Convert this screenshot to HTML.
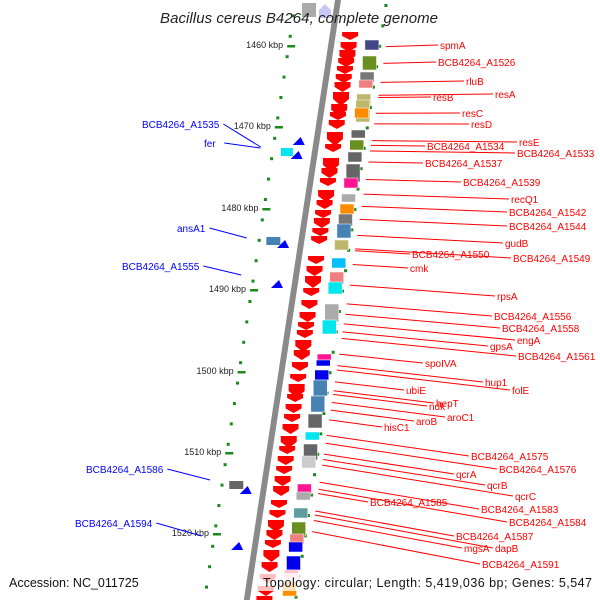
<!DOCTYPE html>
<html><head><meta charset="utf-8"><style>
html,body{margin:0;padding:0;background:#fff;}
svg{display:block;font-family:"Liberation Sans","DejaVu Sans",sans-serif;}
</style></head><body>
<svg id="map" width="600" height="600" viewBox="0 0 600 600">
<g id="gdots"></g>
<g id="gticks"></g>
<g id="glines"></g>
<g id="gback"></g>
<g id="garrows"></g>
<g id="gboxes"></g>
<g id="gleft"></g>
<g id="glabels"></g>
<text x="299" y="23" text-anchor="middle" font-size="15" font-style="italic" fill="#222" textLength="278">Bacillus cereus B4264, complete genome</text>
<text x="9" y="587" font-size="12.5" fill="#111">Accession: NC_011725</text>
<rect x="258" y="573" width="338" height="18" fill="#fff" opacity="0.75"/>
<text x="263" y="587" font-size="12.5" fill="#111" textLength="329">Topology: circular; Length: 5,419,036 bp; Genes: 5,547</text>
</svg>
<script>
// data
const kbpTicks = [1460,1470,1480,1490,1500,1510,1520];
const kbpTickY = [45,126,208,289,371,452,533];
const rightLabels = ["spmA","BCB4264_A1526","rluB","resA","resB","resC","resD","resE","BCB4264_A1534","BCB4264_A1533","BCB4264_A1537","BCB4264_A1539","recQ1","BCB4264_A1542","BCB4264_A1544","gudB","BCB4264_A1550","BCB4264_A1549","cmk","rpsA","BCB4264_A1556","BCB4264_A1558","engA","gpsA","BCB4264_A1561","spoIVA","hup1","folE","ubiE","hepT","ndk","aroC1","aroB","hisC1","BCB4264_A1575","BCB4264_A1576","qcrA","qcrB","qcrC","BCB4264_A1585","BCB4264_A1583","BCB4264_A1584","BCB4264_A1587","mgsA","dapB","BCB4264_A1591"];
const rightLabelX = [440,438,466,495,433,462,471,519,427,517,425,463,511,509,509,505,412,513,410,497,494,502,517,490,518,425,485,512,406,436,429,447,416,384,471,499,456,487,515,370,481,509,456,464,495,482];
const rightLabelY = [45,62,81,94,97,113,124,142,146,153,163,182,199,212,226,243,254,258,268,296,316,328,340,346,356,363,382,390,390,403,406,417,421,427,456,469,474,485,496,502,509,522,536,548,548,564];
const leftLabels = ["BCB4264_A1535","fer","ansA1","BCB4264_A1555","BCB4264_A1586","BCB4264_A1594"];
const leftLabelX = [142,204,177,122,86,75];
const leftLabelY = [124,143,228,266,469,523];
const leftGeneY = [147,148,238,275,480,536];
const arrowY = [32,42,50,58,66,74,82,92,104,112,120,132,144,158,168,178,190,200,210,218,228,236,256,266,276,288,300,312,322,330,340,350,362,374,384,394,404,414,424,436,446,456,466,476,486,500,510,520,530,540,550,562,574,586,596];
const arrowSize = [8,10,12,9,8,9,10,14,12,8,9,14,8,14,10,8,12,9,8,10,8,8,8,10,12,8,9,10,8,8,12,10,9,8,14,8,9,8,10,12,8,9,8,10,10,8,8,12,10,8,12,10,9,10,9];
const boxY = [40,56,72,80,94,100,108,130,140,152,164,178,194,204,214,224,240,258,272,282,304,320,354,360,370,380,396,414,432,444,456,484,492,508,522,534,542,556,570,582];
const boxH = [10,14,10,8,12,22,10,8,10,10,18,10,8,10,12,14,10,10,12,12,18,14,6,6,10,16,16,14,8,16,12,10,8,10,14,10,10,14,10,14];
const boxC = ["#444488","#6b8e23","#777","#f08080","#bdb76b","#bdb76b","#ff8c00","#666","#6b8e23","#666","#666","#ff1493","#aaa","#ff8c00","#777","#4682b4","#bdb76b","#00bfff","#f08080","#00e5ee","#aaa","#00e5ee","#ff1493","#0000ee","#0000ee","#4682b4","#4682b4","#666","#00e5ee","#666","#ccc","#ff1493","#aaa","#5f9ea0","#6b8e23","#f08080","#0000ee","#0000ee","#ffc0cb","#ff8c00"];
const blueTriY = [140,154,243,283,489,545];
const NS="http://www.w3.org/2000/svg";
const bx = y => 338 - 0.152*y;
function el(tag,attrs,parent){const e=document.createElementNS(NS,tag);for(const k in attrs)e.setAttribute(k,attrs[k]);document.getElementById(parent).appendChild(e);return e;}
for(let y=-6;y<610;y+=20.4){
  const d1=el('rect',{x:bx(y)-44,y:y,width:3,height:3,fill:'#1a8a1a'},'gdots');
  
  
  const d2=el('rect',{x:bx(y+10)+47,y:y+10,width:3,height:3,fill:'#1a8a1a'},'gdots');
  
  
}
kbpTicks.forEach((k,i)=>{
  const y=kbpTickY[i];
  const t=el('text',{x:bx(y)-48,y:y+3,'font-size':9,'text-anchor':'end',fill:'#222'},'gticks');
  t.textContent=k+' kbp';
  
  
  const m=el('rect',{x:bx(y)-44,y:y,width:8,height:2.5,fill:'#1a8a1a'},'gticks');
  
  
});
const bk=el('polygon',{points:`${bx(-5)-3},-5 ${bx(-5)+3},-5 ${bx(605)+3},605 ${bx(605)-3},605`,fill:'#8a8a8a'},'gback');


const tb=el('rect',{x:302,y:3,width:14,height:14,fill:'#aaa'},'gback');


const tp=el('polygon',{points:'319,10 325,4 331,10 331,18 319,18',fill:'#c8c8f5'},'gback');


arrowY.forEach((y,i)=>{
  const s=arrowSize[i], cx=bx(y)+17;
  const a=el('polygon',{points:`${cx-8},${y} ${cx+8},${y} ${cx+8},${y+s*0.5} ${cx},${y+s} ${cx-8},${y+s*0.5}`,fill:'#f00'},'garrows');
  
  
});
boxY.forEach((y,i)=>{
  const b=el('rect',{x:bx(y)+33,y:y,width:14,height:boxH[i],fill:boxC[i],stroke:'#fff','stroke-width':0.5},'gboxes');
  
  
});
blueTriY.forEach(y=>{
  const x=bx(y)-18;
  const t=el('polygon',{points:`${x-6},${y+5} ${x+6},${y+5} ${x+2},${y-3}`,fill:'#00f'},'gleft');
  
  
});
[[152,'#00e5ee',12],[241,'#4682b4',14],[485,'#666',14]].forEach(([y,c,w])=>{
  const r=el('rect',{x:bx(y)-28-w/2,y:y-4,width:w,height:8,fill:c},'gleft');
  
  
});
rightLabels.forEach((n,i)=>{
  const ly=rightLabelY[i], lx=rightLabelX[i];
  const slope=(ly-120)/2400;
  let sy=ly; let sx=bx(sy)+55;
  sy = ly - slope*(lx-sx); sx=bx(sy)+55;
  const l=el('line',{x1:sx,y1:sy,x2:lx-2,y2:ly,stroke:'#f00','stroke-width':1},'glines');
  
  
  const t=el('text',{x:lx,y:ly+4,'font-size':10,fill:'#f00'},'glabels');
  t.textContent=n;
  
  
});
leftLabels.forEach((n,i)=>{
  const ly=leftLabelY[i], lx=leftLabelX[i], gy=leftGeneY[i];
  const t=el('text',{x:lx,y:ly+4,'font-size':10,fill:'#00f'},'glabels');
  t.textContent=n;
  
  
  const w=n.length*6.1;
  const l=el('line',{x1:lx+w+2,y1:ly,x2:bx(gy)-55,y2:gy,stroke:'#00f','stroke-width':1},'glines');
  
  
});
</script>
</body></html>
